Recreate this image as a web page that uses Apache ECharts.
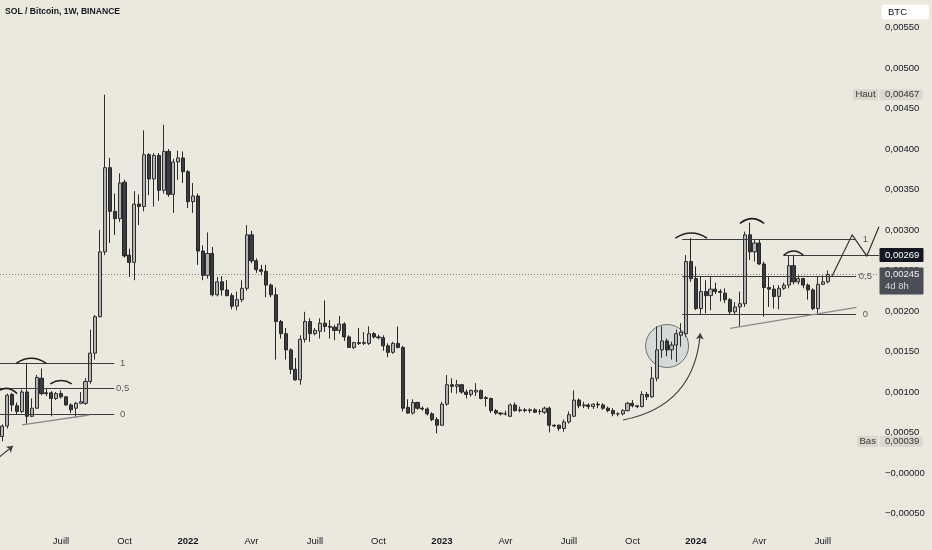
<!DOCTYPE html>
<html><head><meta charset="utf-8">
<script src="https://cdn.jsdelivr.net/npm/echarts@6/dist/echarts.min.js"></script>
<style>html,body{margin:0;padding:0;background:#ebe8dd;}#c{width:932px;height:550px;}</style>
</head><body><div id="c"></div>
<script>
// ---------- data ----------
const firstWeek = '2021-04-12';
const weekSlots = 180;
const opens = [0.00045,0.00058,0.00097,0.00083,0.00076,0.00100,0.00070,0.00080,0.00117,0.00099,
0.00099,0.00092,0.00098,0.00094,0.00084,0.00080,0.00086,0.00086,0.00113,0.00148,
0.00193,0.00273,0.00377,0.00323,0.00314,0.00359,0.00269,0.00260,0.00332,0.00329,
0.00393,0.00363,0.00392,0.00349,0.00397,0.00344,0.00384,0.00389,0.00372,0.00335,
0.00342,0.00274,0.00244,0.00271,0.00220,0.00236,0.00226,0.00219,0.00206,0.00214,
0.00228,0.00294,0.00262,0.00251,0.00249,0.00232,0.00220,0.00187,0.00172,0.00152,
0.00128,0.00115,0.00165,0.00187,0.00172,0.00175,0.00185,0.00181,0.00180,0.00176,
0.00184,0.00168,0.00155,0.00161,0.00160,0.00160,0.00172,0.00168,0.00167,0.00157,
0.00149,0.00160,0.00155,0.00081,0.00074,0.00087,0.00080,0.00079,0.00073,0.00066,
0.00059,0.00085,0.00109,0.00107,0.00109,0.00100,0.00097,0.00100,0.00102,0.00093,
0.00092,0.00077,0.00074,0.00073,0.00070,0.00084,0.00077,0.00078,0.00077,0.00078,
0.00076,0.00075,0.00080,0.00059,0.00059,0.00055,0.00063,0.00070,0.00090,0.00083,
0.00084,0.00082,0.00085,0.00084,0.00080,0.00077,0.00073,0.00073,0.00077,0.00086,
0.00083,0.00082,0.00097,0.00094,0.00117,0.00152,0.00163,0.00152,0.00158,0.00170,
0.00172,0.00261,0.00240,0.00203,0.00224,0.00219,0.00227,0.00224,0.00222,0.00214,
0.00199,0.00205,0.00209,0.00294,0.00273,0.00284,0.00258,0.00229,0.00227,0.00218,
0.00228,0.00232,0.00256,0.00236,0.00240,0.00232,0.00226,0.00203,0.00233,0.00236];
const closes = [0.00058,0.00096,0.00084,0.00076,0.00100,0.00070,0.00080,0.00118,0.00098,0.00098,
0.00092,0.00098,0.00094,0.00084,0.00078,0.00086,0.00088,0.00113,0.00148,0.00193,
0.00273,0.00377,0.00323,0.00314,0.00358,0.00268,0.00260,0.00332,0.00329,0.00393,
0.00363,0.00392,0.00349,0.00397,0.00344,0.00384,0.00389,0.00372,0.00335,0.00342,
0.00274,0.00244,0.00271,0.00220,0.00236,0.00226,0.00219,0.00206,0.00214,0.00228,
0.00294,0.00262,0.00251,0.00249,0.00232,0.00220,0.00187,0.00172,0.00152,0.00128,
0.00115,0.00165,0.00187,0.00172,0.00176,0.00185,0.00181,0.00180,0.00176,0.00184,
0.00168,0.00155,0.00161,0.00160,0.00161,0.00172,0.00168,0.00167,0.00157,0.00149,
0.00160,0.00155,0.00080,0.00074,0.00087,0.00080,0.00079,0.00073,0.00066,0.00059,
0.00085,0.00109,0.00107,0.00109,0.00100,0.00097,0.00102,0.00102,0.00092,0.00092,
0.00077,0.00074,0.00073,0.00073,0.00084,0.00077,0.00078,0.00077,0.00078,0.00075,
0.00076,0.00080,0.00059,0.00058,0.00055,0.00063,0.00072,0.00090,0.00083,0.00084,
0.00082,0.00085,0.00084,0.00080,0.00077,0.00073,0.00073,0.00077,0.00086,0.00083,
0.00082,0.00097,0.00094,0.00117,0.00152,0.00163,0.00152,0.00158,0.00172,0.00174,
0.00261,0.00240,0.00203,0.00224,0.00219,0.00227,0.00224,0.00223,0.00214,0.00199,
0.00205,0.00209,0.00294,0.00273,0.00284,0.00258,0.00229,0.00227,0.00218,0.00228,
0.00232,0.00256,0.00236,0.00240,0.00232,0.00226,0.00203,0.00233,0.00236,0.00245];
const lows = [0.00039,0.00055,0.00076,0.00072,0.00074,0.00061,0.00069,0.00079,0.00096,0.00095,
0.00070,0.00090,0.00092,0.00083,0.00074,0.00069,0.00085,0.00084,0.00110,0.00140,
0.00192,0.00269,0.00284,0.00294,0.00310,0.00266,0.00242,0.00238,0.00306,0.00323,
0.00343,0.00329,0.00336,0.00345,0.00341,0.00321,0.00362,0.00358,0.00327,0.00321,
0.00257,0.00238,0.00240,0.00218,0.00218,0.00219,0.00218,0.00202,0.00201,0.00211,
0.00225,0.00259,0.00247,0.00244,0.00217,0.00217,0.00140,0.00166,0.00140,0.00122,
0.00114,0.00109,0.00161,0.00162,0.00170,0.00166,0.00174,0.00166,0.00164,0.00172,
0.00163,0.00155,0.00153,0.00158,0.00158,0.00158,0.00166,0.00165,0.00151,0.00143,
0.00147,0.00154,0.00076,0.00073,0.00072,0.00078,0.00077,0.00071,0.00064,0.00049,
0.00058,0.00083,0.00099,0.00098,0.00098,0.00092,0.00094,0.00095,0.00091,0.00082,
0.00074,0.00072,0.00071,0.00071,0.00069,0.00076,0.00075,0.00075,0.00074,0.00074,
0.00072,0.00073,0.00050,0.00057,0.00052,0.00051,0.00061,0.00069,0.00080,0.00080,
0.00079,0.00079,0.00080,0.00078,0.00075,0.00070,0.00070,0.00071,0.00076,0.00081,
0.00080,0.00081,0.00090,0.00093,0.00113,0.00142,0.00144,0.00140,0.00137,0.00156,
0.00168,0.00236,0.00201,0.00195,0.00197,0.00201,0.00221,0.00212,0.00210,0.00195,
0.00195,0.00181,0.00205,0.00263,0.00261,0.00257,0.00193,0.00205,0.00203,0.00202,
0.00226,0.00228,0.00233,0.00233,0.00228,0.00214,0.00201,0.00197,0.00232,0.00234];
const highs = [0.00060,0.00098,0.00099,0.00087,0.00103,0.00136,0.00092,0.00121,0.00129,0.00105,
0.00101,0.00100,0.00102,0.00095,0.00086,0.00088,0.00100,0.00117,0.00177,0.00195,
0.00300,0.00467,0.00389,0.00345,0.00370,0.00362,0.00277,0.00348,0.00344,0.00423,
0.00395,0.00395,0.00395,0.00430,0.00400,0.00388,0.00398,0.00397,0.00374,0.00358,
0.00345,0.00281,0.00297,0.00279,0.00242,0.00243,0.00238,0.00222,0.00224,0.00238,
0.00306,0.00299,0.00265,0.00257,0.00257,0.00234,0.00229,0.00189,0.00179,0.00154,
0.00142,0.00170,0.00199,0.00191,0.00179,0.00191,0.00213,0.00189,0.00183,0.00194,
0.00186,0.00170,0.00162,0.00179,0.00174,0.00181,0.00174,0.00171,0.00170,0.00160,
0.00162,0.00181,0.00157,0.00091,0.00091,0.00088,0.00082,0.00081,0.00075,0.00069,
0.00088,0.00121,0.00117,0.00115,0.00110,0.00103,0.00103,0.00111,0.00103,0.00095,
0.00093,0.00079,0.00075,0.00077,0.00086,0.00087,0.00082,0.00080,0.00080,0.00080,
0.00079,0.00082,0.00082,0.00060,0.00060,0.00066,0.00076,0.00102,0.00092,0.00088,
0.00086,0.00086,0.00088,0.00086,0.00082,0.00080,0.00075,0.00079,0.00088,0.00090,
0.00084,0.00101,0.00100,0.00131,0.00181,0.00181,0.00166,0.00162,0.00177,0.00185,
0.00269,0.00290,0.00255,0.00242,0.00238,0.00243,0.00235,0.00227,0.00228,0.00216,
0.00211,0.00224,0.00298,0.00309,0.00288,0.00289,0.00261,0.00242,0.00232,0.00232,
0.00235,0.00269,0.00269,0.00244,0.00241,0.00234,0.00228,0.00242,0.00244,0.00250];

const tickDates = ['2021-07-05','2021-10-04','2022-01-03','2022-04-04','2022-07-04','2022-10-03','2023-01-02','2023-04-03','2023-07-03','2023-10-02','2024-01-01','2024-04-01','2024-07-01'];
const tickTexts = ['Juill','Oct','2022','Avr','Juill','Oct','2023','Avr','Juill','Oct','2024','Avr','Juill'];
const yearTexts = ['2022','2023','2024'];

const lastPrice = 0.00245, lastCountdown = '4d 8h';
const highMark = 0.00467, lowMark = 0.00039, targetLevel = 0.00269;

// drawings, coordinates as [week index, price]
const fibLabels = ['1', '0,5', '0'];
const fibLeftLevels = [0.001354, 0.001041, 0.000728];
const fibLeftSpan = [-0.6, 22.9];
const fibLeftLabelX = 24.6;
const fibRightLevels = [0.002885, 0.002424, 0.001963];
const fibRightSpan = [139.2, 174.8];
const fibRightLabelX = 176.7;
const targetSpan = [159.9, 179.5];
const trendLines = [
  [[4.0, 0.000593], [17.8, 0.000716]],
  [[149.0, 0.001786], [174.9, 0.002045]]
];
const zigzag = [[169.8, 0.00242], [174.0, 0.00294], [177.0, 0.00268], [179.5, 0.00304]];
const arcs = [
  [[-1.5, 0.00098], [3.0, 0.00098]],
  [[2.8, 0.001354], [9.0, 0.001354]],
  [[9.8, 0.00110], [14.2, 0.00110]],
  [[137.8, 0.00290], [144.3, 0.00290]],
  [[151.0, 0.00308], [156.0, 0.00308]],
  [[160.0, 0.00269], [164.0, 0.00269]]
];
const arcBends = [0.48, 0.33, 0.31, 0.32, 0.40, 0.43];
const leftArrow = [[-1.0, 0.00018], [2.15, 0.000333]];
const curvedArrow = [[127.1, 0.000654], [142.9, 0.001725]];
const circleCenter = [136.1, 0.001568];

// ---------- build ----------
const FONT = '"Liberation Sans", Arial, sans-serif';
const weeks = [];
const t0 = Date.parse(firstWeek + 'T00:00:00Z');
for (let i = 0; i < weekSlots; i++) weeks.push(new Date(t0 + i * 7 * 86400000).toISOString().slice(0, 10));
const candles = opens.map((o, i) => [o, closes[i], lows[i], highs[i]]);

function fmtPrice(v) {
  if (Math.abs(v) < 1e-9) return '\u22120,00000';
  return (v < 0 ? '\u2212' : '') + Math.abs(v).toFixed(5).replace('.', ',');
}

const segs = [];
fibLeftLevels.forEach(v => segs.push({coords: [[fibLeftSpan[0], v], [fibLeftSpan[1], v]]}));
fibRightLevels.forEach(v => segs.push({coords: [[fibRightSpan[0], v], [fibRightSpan[1], v]]}));
segs.push({coords: [[targetSpan[0], targetLevel], [targetSpan[1], targetLevel]]});

const labelPts = [];
fibLeftLevels.forEach((v, i) => labelPts.push({value: [fibLeftLabelX, v], name: fibLabels[i]}));
fibRightLevels.forEach((v, i) => labelPts.push({value: [fibRightLabelX, v], name: fibLabels[i]}));

const chart = echarts.init(document.getElementById('c'), null, {renderer: 'canvas'});
chart.setOption({
  animation: false,
  backgroundColor: '#ebe8dd',
  grid: {left: -1.245, right: 53, top: 27.5, bottom: 36.5},
  xAxis: [{
    type: 'category', data: weeks, boundaryGap: true,
    axisLine: {show: false}, axisTick: {show: false}, splitLine: {show: false},
    axisLabel: {
      interval: (idx, val) => tickDates.indexOf(val) >= 0,
      formatter: val => {
        const t = tickTexts[tickDates.indexOf(val)];
        return yearTexts.indexOf(t) >= 0 ? '{b|' + t + '}' : t;
      },
      color: '#131722', fontSize: 9.5, fontFamily: FONT, margin: 23,
      rich: {b: {fontWeight: 'bold', fontSize: 9.5, fontFamily: FONT, color: '#131722'}}
    }
  }, {
    type: 'value', min: -0.5, max: weekSlots - 0.5, show: false
  }],
  yAxis: [{
    type: 'value', position: 'right', min: -0.0005, max: 0.0055, interval: 0.0005,
    axisLine: {show: false}, axisTick: {show: false}, splitLine: {show: false},
    axisLabel: {formatter: fmtPrice, color: '#131722', fontSize: 9.5, fontFamily: FONT, margin: 6}
  }],
  series: [
    {
      type: 'scatter', xAxisIndex: 1, yAxisIndex: 0, z: 1, silent: true,
      data: [circleCenter], symbolSize: 43,
      itemStyle: {color: 'rgba(182,198,214,0.55)', borderColor: '#555', borderWidth: 1}
    },
    {
      type: 'lines', coordinateSystem: 'cartesian2d', xAxisIndex: 1, yAxisIndex: 0, z: 2, silent: true,
      data: [{coords: [[-0.5, lastPrice], [weekSlots - 0.5, lastPrice]]}],
      lineStyle: {type: [1, 2], color: '#7d7d7d', width: 1, opacity: 1}
    },
    {
      type: 'candlestick', xAxisIndex: 0, yAxisIndex: 0, z: 3, barWidth: 3.6,
      data: candles,
      itemStyle: {color: '#b3b3b3', color0: '#3a3c44', borderColor: '#2f2f2f', borderColor0: '#262626', borderWidth: 1}
    },
    {
      type: 'lines', coordinateSystem: 'cartesian2d', xAxisIndex: 1, yAxisIndex: 0, z: 5, silent: true,
      data: segs, lineStyle: {color: '#3c3c3c', width: 1.2, opacity: 1}
    },
    {
      type: 'lines', coordinateSystem: 'cartesian2d', xAxisIndex: 1, yAxisIndex: 0, z: 5, silent: true,
      data: trendLines.map(c => ({coords: c})), lineStyle: {color: '#8a8a8a', width: 1.3, opacity: 1}
    },
    {
      type: 'lines', coordinateSystem: 'cartesian2d', xAxisIndex: 1, yAxisIndex: 0, z: 5, silent: true,
      polyline: true, data: [{coords: zigzag}], lineStyle: {color: '#333', width: 1.2, opacity: 1}
    },
    {
      type: 'lines', coordinateSystem: 'cartesian2d', xAxisIndex: 1, yAxisIndex: 0, z: 5, silent: true,
      data: arcs.map((c, i) => ({coords: c, lineStyle: {curveness: arcBends[i]}})),
      lineStyle: {color: '#1e1e1e', width: 1.5, opacity: 1}
    },
    {
      type: 'lines', coordinateSystem: 'cartesian2d', xAxisIndex: 1, yAxisIndex: 0, z: 5, silent: true,
      symbol: ['none', 'arrow'], symbolSize: 6,
      data: [{coords: leftArrow}, {coords: curvedArrow, lineStyle: {curveness: -0.38}}],
      lineStyle: {color: '#3c3c3c', width: 1.1, opacity: 1}
    },
    {
      type: 'scatter', xAxisIndex: 1, yAxisIndex: 0, z: 6, silent: true, symbolSize: 0,
      data: labelPts,
      label: {show: true, position: 'inside', formatter: p => p.name, color: '#333', fontSize: 9.5, fontFamily: FONT}
    }
  ]
});

const yOf = v => chart.convertToPixel({yAxisIndex: 0}, v);
const gfx = [];
function box(x, y, w, h, fill, r) {
  gfx.push({type: 'rect', shape: {x: x, y: y, width: w, height: h, r: r || 0}, style: {fill: fill}, z: 100});
}
function txt(x, y, s, color, align, weight, size) {
  gfx.push({type: 'text', x: x, y: y, style: {text: s, fill: color, align: align || 'left', verticalAlign: 'middle',
    font: (weight || 'normal') + ' ' + (size || 9.5) + 'px ' + FONT}, z: 101});
}
// title
txt(5, 11.5, 'SOL / Bitcoin, 1W, BINANCE', '#131722', 'left', 'bold', 8.6);
// currency box
box(881.5, 4.5, 47.5, 15, '#ffffff', 3);
txt(888, 12, 'BTC', '#131722');
// high / low markers
const yH = yOf(highMark), yL = yOf(lowMark);
box(853, yH - 5.5, 25, 11, '#d9d7ce');
txt(865.5, yH, 'Haut', '#333', 'center');
box(879.5, yH - 5.5, 43, 11, '#d9d7ce');
txt(885, yH, fmtPrice(highMark), '#333');
box(857.5, yL - 5.5, 20.5, 11, '#d9d7ce');
txt(867.7, yL, 'Bas', '#333', 'center');
box(879.5, yL - 5.5, 43, 11, '#d9d7ce');
txt(885, yL, fmtPrice(lowMark), '#333');
// target level label
const yT = yOf(targetLevel);
box(879.5, yT - 7, 44, 14, '#131722', 1);
txt(885, yT, fmtPrice(targetLevel), '#ffffff');
// last price with countdown
const yP = yOf(lastPrice);
box(879.5, yP - 7, 44, 27, '#4b4d57', 1);
txt(885, yP, fmtPrice(lastPrice), '#f0f0f0');
txt(885, yP + 12, lastCountdown, '#d8d8d8');
chart.setOption({graphic: gfx});
</script></body></html>
